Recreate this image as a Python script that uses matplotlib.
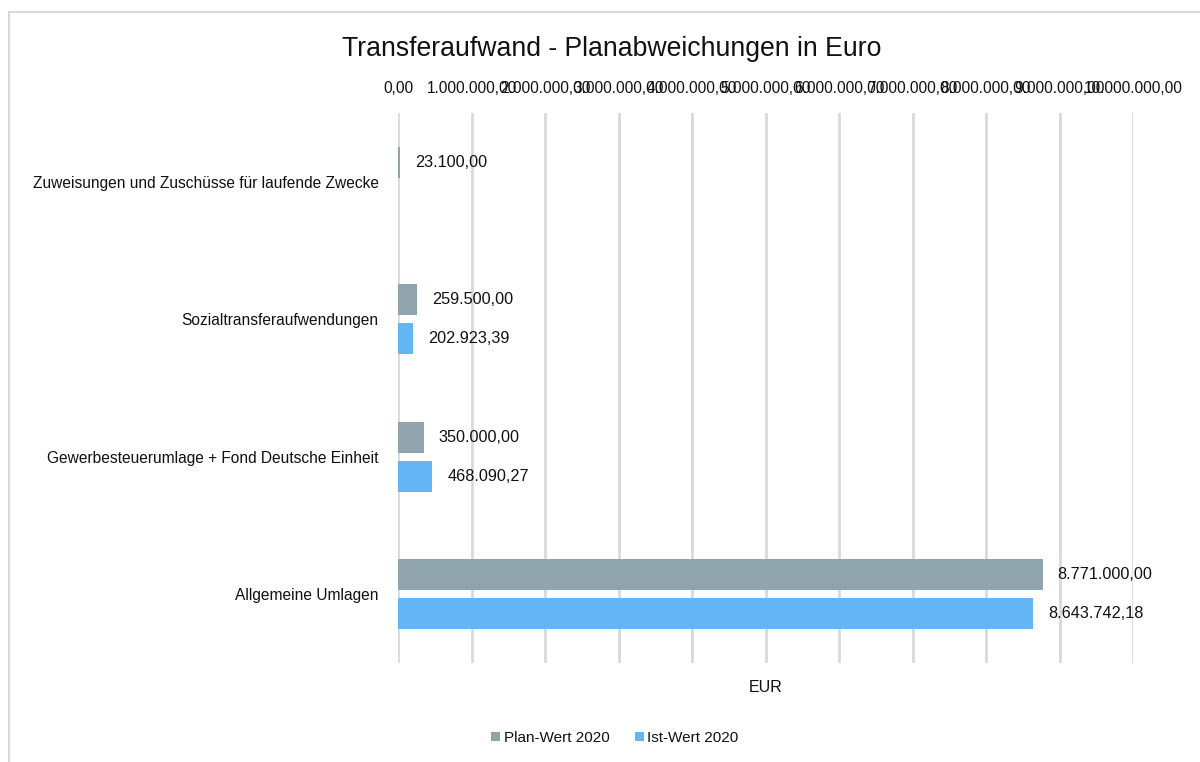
import matplotlib
matplotlib.use("Agg")
import matplotlib.pyplot as plt
import numpy as np
from matplotlib.patches import Rectangle
from matplotlib.ticker import FuncFormatter

plt.rcParams['font.family'] = ['Liberation Sans', 'DejaVu Sans']

categories = ["Zuweisungen und Zuschüsse für laufende Zwecke",
              "Sozialtransferaufwendungen",
              "Gewerbesteuerumlage + Fond Deutsche Einheit",
              "Allgemeine Umlagen"]
plan_2020 = [23100.00, 259500.00, 350000.00, 8771000.00]
ist_2020 = [np.nan, 202923.39, 468090.27, 8643742.18]
series_names = ["Plan-Wert 2020", "Ist-Wert 2020"]
colors = ["#90A4AE", "#64B5F6"]
TXT = "#111111"


def de_fmt(v, pos=None):
    s = f"{v:,.2f}"
    return s.replace(",", "X").replace(".", ",").replace("X", ".")


fig = plt.figure(figsize=(12, 7.62), dpi=100)
ax = fig.add_axes([398/1200, 1-663/762, (1133-398)/1200, (663-113)/762])

y = np.arange(len(categories))
h = 0.225
off = 0.143
for vals, sign, col, name in [(plan_2020, -1, colors[0], series_names[0]),
                              (ist_2020, 1, colors[1], series_names[1])]:
    v = np.array(vals, dtype=float)
    mask = ~np.isnan(v)
    bars = ax.barh(y[mask] + sign*off, v[mask], height=h, color=col, label=name, zorder=3)
    for b, val in zip(bars, v[mask]):
        ax.annotate(de_fmt(val), (b.get_width(), b.get_y() + b.get_height()/2),
                    xytext=(15, 0), textcoords="offset pixels",
                    va="center", ha="left", fontsize=11.7, color=TXT)

ax.set_ylim(len(categories) - 0.5, -0.5)
ax.set_xlim(0, 10000000)
ax.set_xticks(np.arange(0, 10000001, 1000000))
ax.xaxis.set_major_formatter(FuncFormatter(de_fmt))
ax.xaxis.tick_top()
ax.tick_params(axis='x', length=0, pad=12, labelsize=11.2, colors=TXT)
ax.set_yticks(y)
ax.set_yticklabels(categories)
ax.tick_params(axis='y', length=0, pad=14, labelsize=11.2, colors=TXT)
ax.grid(axis='x', color="#d9d9d9", linewidth=2, zorder=0)
for s in ax.spines.values():
    s.set_visible(False)

ax.set_xlabel("EUR", fontsize=11.5, color=TXT, labelpad=12)

fig.text(612/1200, 1-49/762, "Transferaufwand - Planabweichungen in Euro",
         ha="center", va="center", fontsize=19.2, color=TXT)

leg = fig.legend(loc="center", bbox_to_anchor=(615/1200, 1-738/762), ncol=2,
                 frameon=False, fontsize=11.0, handlelength=0.55, handleheight=0.55,
                 columnspacing=1.7, handletextpad=0.25)
for t in leg.get_texts():
    t.set_color(TXT)

fig.patches.append(Rectangle((9/1200, -0.5), 2, (1 - 12/762) + 0.5, transform=fig.transFigure,
                             fill=False, edgecolor="#d9d9d9", linewidth=1.5, clip_on=False))

fig.savefig("out.png", dpi=100)
